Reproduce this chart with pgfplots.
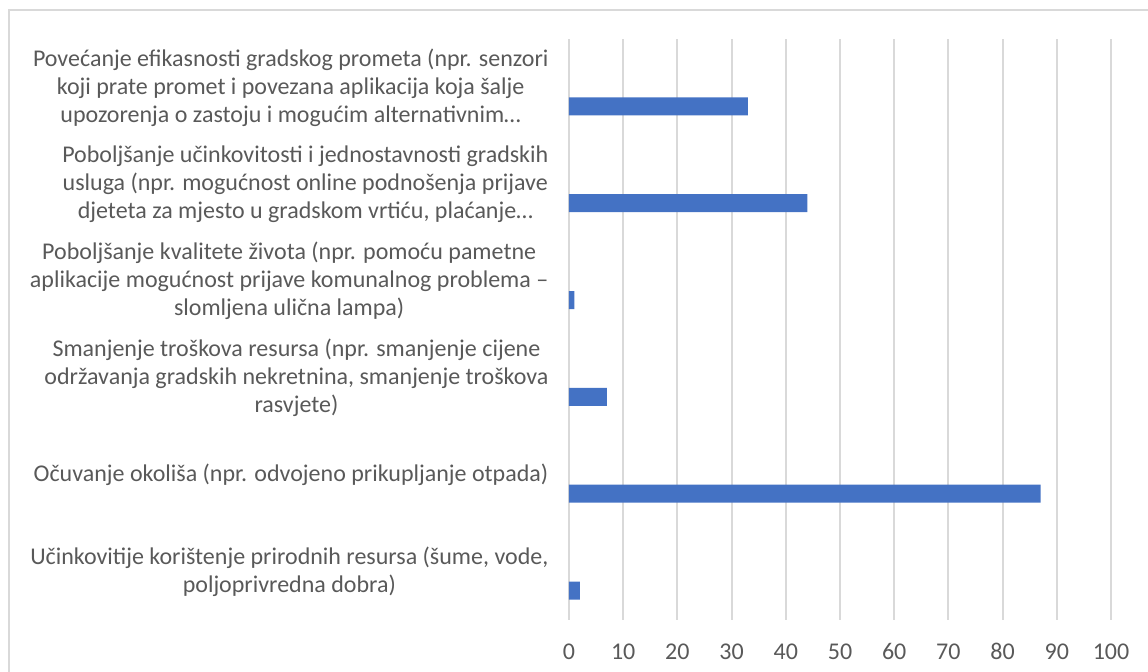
\documentclass[border=0pt]{standalone}
\usepackage{pgfplots}
\pgfplotsset{compat=1.18}
\usepackage{fontspec}
\setmainfont{Carlito}
\definecolor{txtc}{HTML}{595959}
\definecolor{gridc}{HTML}{D9D9D9}
\definecolor{barc}{HTML}{4472C4}
\begin{document}
\begin{tikzpicture}
\useasboundingbox (0,0) rectangle (574pt,336pt);
\draw[gridc, line width=1pt] (4.5pt,-2pt) -- (4.5pt,331pt) -- (580pt,331pt);
\begin{axis}[
  at={(284.5pt,26pt)}, anchor=south west,
  scale only axis, width=271pt, height=290.5pt,
  xmin=0, xmax=100, ymin=-0.5, ymax=5.5,
  xtick={0,10,20,30,40,50,60,70,80,90,100},
  ytick={0,1,2,3,4,5},
  yticklabels={
    {Učinkovitije korištenje prirodnih resursa (šume, vode,\\poljoprivredna dobra)},
    {Očuvanje okoliša (npr. odvojeno prikupljanje otpada)},
    {Smanjenje troškova resursa (npr. smanjenje cijene\\održavanja gradskih nekretnina, smanjenje troškova\\rasvjete)},
    {Poboljšanje kvalitete života (npr. pomoću pametne\\aplikacije mogućnost prijave komunalnog problema –\\slomljena ulična lampa)},
    {Poboljšanje učinkovitosti i jednostavnosti gradskih\\usluga (npr. mogućnost online podnošenja prijave\\djeteta za mjesto u gradskom vrtiću, plaćanje…},
    {Povećanje efikasnosti gradskog prometa (npr. senzori\\koji prate promet i povezana aplikacija koja šalje\\upozorenja o zastoju i mogućim alternativnim…}
  },
  xmajorgrids=true, ymajorgrids=false,
  major grid style={draw=gridc, line width=1pt},
  axis line style={draw=none},
  tick style={draw=none},
  font=\fontsize{12}{14}\selectfont,
  tick label style={text=txtc},
  /pgf/number format/assume math mode=true,
  yticklabel style={align=center, xshift=-2.5pt},
  xticklabel style={anchor=base, yshift=-20pt},
  xbar, bar width=9pt, bar shift=-9.5pt,
]
\addplot[fill=barc, draw=none] coordinates {
  (2,0) (87,1) (7,2) (1,3) (44,4) (33,5)
};
\end{axis}
\end{tikzpicture}
\end{document}
